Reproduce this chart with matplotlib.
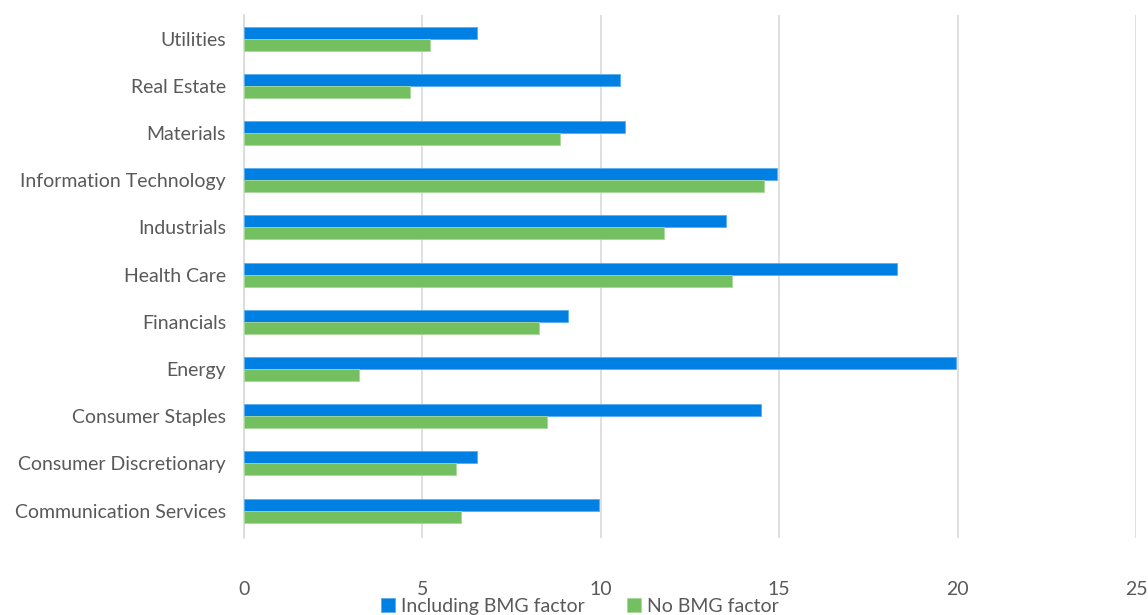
import matplotlib.pyplot as plt
import numpy as np

sectors = ["Communication Services", "Consumer Discretionary", "Consumer Staples",
           "Energy", "Financials", "Health Care", "Industrials",
           "Information Technology", "Materials", "Real Estate", "Utilities"]
incl_bmg = [9.95, 6.52, 14.48, 19.96, 9.08, 18.29, 13.51, 14.94, 10.67, 10.54, 6.52]
no_bmg = [6.08, 5.93, 8.48, 3.21, 8.28, 13.68, 11.78, 14.58, 8.87, 4.66, 5.20]

plt.rcParams['font.family'] = ['Lato', 'DejaVu Sans']

blue = "#0080E2"
green = "#74BF5F"
grey = "#595959"

fig = plt.figure(figsize=(11.48, 6.15), dpi=100)
ax = fig.add_axes([244/1148, 1-538/615, (1136-244)/1148, (538-15)/615])

y = np.arange(len(sectors))
h = 0.255
ax.barh(y + h/2, incl_bmg, height=h, color=blue, edgecolor="#5aaef0", linewidth=0.6,
        label="Including BMG factor", zorder=3)
ax.barh(y - h/2, no_bmg, height=h, color=green, edgecolor="#a8d89a", linewidth=0.6,
        label="No BMG factor", zorder=3)

ax.set_xlim(0, 25)
ax.set_ylim(-0.58, len(sectors) - 0.5)
ax.set_xticks(np.arange(0, 26, 5))
ax.set_yticks(y)
ax.set_yticklabels(sectors)
ax.tick_params(axis="both", length=0, colors=grey, labelsize=14)
ax.tick_params(axis="x", pad=31)
ax.tick_params(axis="y", pad=13)
ax.grid(axis="x", color="#d9d9d9", linewidth=1.2, zorder=0)
for s in ["top", "right", "bottom"]:
    ax.spines[s].set_visible(False)
ax.spines["left"].set_color("#d9d9d9")
ax.spines["left"].set_linewidth(1.2)

fig.legend(loc="lower center", bbox_to_anchor=(580/1148, 0.0), ncol=2, frameon=False,
           fontsize=14, labelcolor=grey, handlelength=0.7, handleheight=0.7,
           handletextpad=0.3, columnspacing=2.2, borderpad=0, borderaxespad=0)

fig.savefig("out.png", dpi=100)
